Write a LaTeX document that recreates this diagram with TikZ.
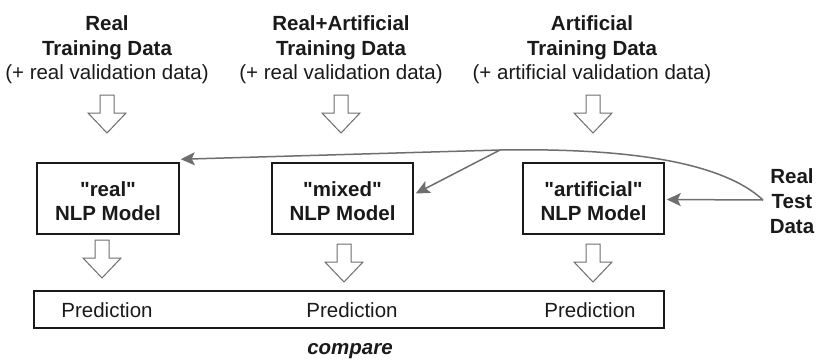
\documentclass[tikz,border=0pt]{standalone}
\usepackage{fontspec}
\setmainfont{Liberation Sans}
\usetikzlibrary{arrows.meta,calc}
\definecolor{ink}{HTML}{1A1A1A}
\definecolor{conn}{HTML}{6E6E6E}
\tikzset{
  x=1pt,y=-1pt,
  txt/.style={inner sep=0pt,anchor=base,text=ink,font=\fontsize{20.5}{24}\selectfont},
  btxt/.style={txt,font=\fontsize{20.5}{24}\selectfont\bfseries},
  model/.style={draw=ink,line width=1.5pt,minimum width=141pt,minimum height=71pt,inner sep=0pt},
  arr/.style={draw=conn,line width=1.5pt,-{Stealth[length=14pt,width=13pt,inset=3pt]}},
  hollow/.pic={\draw[conn,line width=1pt,fill=white,line join=miter]
     (-7,0) -- (7,0) -- (7,18) -- (19,18) -- (0,38) -- (-19,18) -- (-7,18) -- cycle;}
}
\begin{document}
\begin{tikzpicture}
\useasboundingbox (0,0) rectangle (827,361);
% headers
\node[btxt] (h1a) at (107,31) {Real};
\node[btxt] (h1b) at (107,56) {Training Data};
\node[txt]  (h1c) at (107,79) {(+ real validation data)};
\node[btxt] (h2a) at (341,31) {Real+Artificial};
\node[btxt] (h2b) at (341,56) {Training Data};
\node[txt]  (h2c) at (341,79) {(+ real validation data)};
\node[btxt] (h3a) at (592,31) {Artificial};
\node[btxt] (h3b) at (592,56) {Training Data};
\node[txt]  (h3c) at (592,79) {(+ artificial validation data)};
% hollow arrows top
\pic at (107,95) {hollow};
\pic at (341,95) {hollow};
\pic at (593,95) {hollow};
% model boxes
\node[model,minimum width=142pt] (real) at (108,198.5) {};
\node[model] (mixed) at (342.5,198.5) {};
\node[model] (art) at (593.5,198.5) {};
\node[btxt] (r1) at (108,196) {\textquotedbl real\textquotedbl};
\node[btxt] (r2) at (108,220) {NLP Model};
\node[btxt] (m1) at (342.5,196) {\textquotedbl mixed\textquotedbl};
\node[btxt] (m2) at (342.5,220) {NLP Model};
\node[btxt] (a1) at (593.5,196) {\textquotedbl artificial\textquotedbl};
\node[btxt] (a2) at (593.5,220) {NLP Model};
% hollow arrows bottom
\pic at (102,240) {hollow};
\pic at (344,244) {hollow};
\pic at (593,244) {hollow};
% prediction box
\node[draw=ink,line width=1.5pt,minimum width=630pt,minimum height=37pt,inner sep=0pt] (pred) at (349,309.5) {};
\node[txt] (p1) at (107,317) {Prediction};
\node[txt] (p2) at (352,317) {Prediction};
\node[txt] (p3) at (590,317) {Prediction};
\node[txt,font=\fontsize{20.5}{24}\selectfont\bfseries\itshape] (cmp) at (350,354) {compare};
% real test data
\node[btxt] (t1) at (792,183) {Real};
\node[btxt] (t2) at (792,208) {Test};
\node[btxt] (t3) at (792,233) {Data};
\coordinate (src) at (763,200);
\coordinate (j) at (500,150);
% connectors
\draw[arr] (src) -- ($(art.east)+(2,1)$);
\draw[arr] (src) .. controls (720,160) and (620,148) .. (j) -- ($(real.north east)+(1,-3)$);
\draw[arr] (j) -- ($(mixed.east)+(2,-5)$);
\end{tikzpicture}
\end{document}
